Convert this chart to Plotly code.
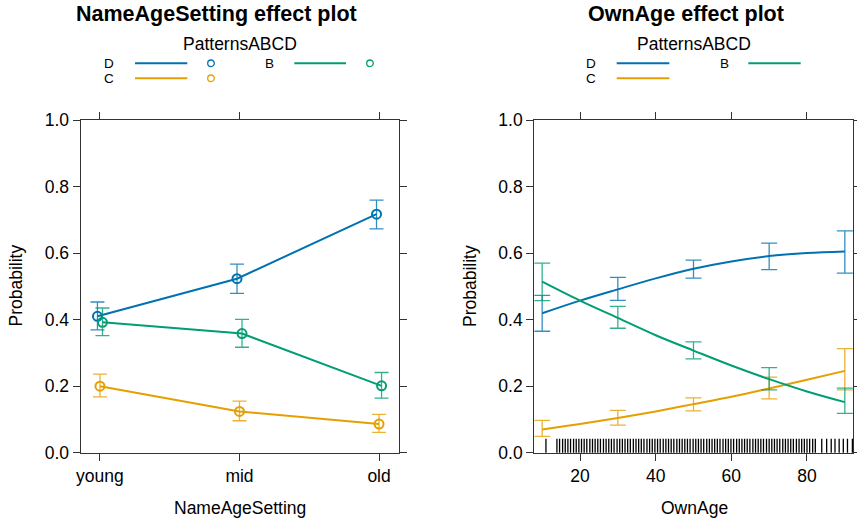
import plotly.graph_objects as go

# ---------------- data ----------------
settings = ["young", "mid", "old"]
patterns = ["D", "C", "B"]
colors = {"D": "#0072B2", "C": "#E69F00", "B": "#009E73"}
err_colors = {"D": "rgba(0,114,178,0.8)", "C": "rgba(230,159,0,0.8)", "B": "rgba(0,158,115,0.8)"}

# NameAgeSetting effect: fit, lower, upper
set_fit = {"D": [0.410, 0.523, 0.717], "C": [0.200, 0.124, 0.086], "B": [0.392, 0.358, 0.201]}
set_lo = {"D": [0.369, 0.479, 0.673], "C": [0.168, 0.096, 0.061], "B": [0.352, 0.317, 0.164]}
set_hi = {"D": [0.453, 0.567, 0.759], "C": [0.236, 0.155, 0.115], "B": [0.435, 0.401, 0.241]}
dodge = {"D": -0.018, "C": 0.0, "B": 0.018}

# OwnAge effect: smooth curve
age_curve = [10, 20, 30, 40, 50, 60, 70, 80, 90]
age_fit = {
    "D": [0.419, 0.457, 0.491, 0.524, 0.553, 0.575, 0.591, 0.600, 0.605],
    "C": [0.070, 0.086, 0.104, 0.124, 0.146, 0.168, 0.193, 0.219, 0.246],
    "B": [0.514, 0.457, 0.405, 0.353, 0.307, 0.262, 0.221, 0.184, 0.152],
}
# OwnAge confidence intervals
age_ci = [10, 30, 50, 70, 90]
age_ci_fit = {
    "D": [0.419, 0.491, 0.553, 0.591, 0.605],
    "C": [0.070, 0.104, 0.146, 0.193, 0.246],
    "B": [0.514, 0.405, 0.307, 0.221, 0.152],
}
age_lo = {
    "D": [0.365, 0.458, 0.525, 0.550, 0.540],
    "C": [0.049, 0.083, 0.126, 0.162, 0.189],
    "B": [0.457, 0.374, 0.282, 0.189, 0.118],
}
age_hi = {
    "D": [0.473, 0.527, 0.579, 0.630, 0.667],
    "C": [0.097, 0.127, 0.165, 0.227, 0.313],
    "B": [0.570, 0.440, 0.333, 0.256, 0.194],
}
# rug of observed OwnAge values
rug_ages = [11.0,
            13.9, 14.6, 15.4, 16.1, 16.8, 17.5, 18.3, 19.0, 19.7, 20.4, 21.1, 21.8, 22.6, 23.3,
            24.0, 24.7, 25.4, 26.2, 26.9, 27.6, 28.3, 29.0, 29.8, 30.5, 31.2, 31.9, 32.6, 33.3,
            34.1, 34.8, 35.5, 36.2, 36.9, 37.7, 38.4, 39.1, 39.8, 40.5, 41.2, 42.0, 42.7, 43.4,
            44.1, 44.8, 45.6, 46.3, 47.0, 47.7, 48.4, 49.1, 49.9, 50.6, 51.3, 52.0, 52.7, 53.5,
            54.2, 54.9, 55.6, 56.3, 57.0, 57.8, 58.5, 59.2, 59.9, 60.6, 61.4, 62.1, 62.8, 63.5,
            64.2, 64.9, 65.7, 66.4, 67.1, 67.8, 68.5, 69.3, 70.0, 70.7, 71.4, 72.1, 72.8, 73.6,
            74.3, 75.0, 75.7, 76.4, 77.2, 77.9, 78.6, 79.3, 80.0, 80.7, 81.5, 82.2,
            83.9, 85.2, 86.4, 87.4, 88.5, 89.6, 90.7, 92.0]

FONT = "Liberation Sans, Arial, Helvetica, sans-serif"
W, H = 857, 521

fig = go.Figure()

# ---- left panel ----
for p in patterns:
    xs = [i + 1 + dodge[p] for i in range(len(settings))]
    fit = set_fit[p]
    fig.add_trace(go.Scatter(
        x=xs, y=fit, mode="lines+markers", xaxis="x", yaxis="y",
        line=dict(color=colors[p], width=2),
        marker=dict(symbol="circle-open", size=9, color=colors[p], line=dict(width=2, color=colors[p])),
        error_y=dict(type="data", symmetric=False,
                     array=[h - f for h, f in zip(set_hi[p], fit)],
                     arrayminus=[f - l for l, f in zip(set_lo[p], fit)],
                     color=err_colors[p], thickness=1.3, width=7),
        showlegend=False, hoverinfo="skip"))

# ---- right panel ----
for p in patterns:
    fig.add_trace(go.Scatter(
        x=age_curve, y=age_fit[p], mode="lines", xaxis="x2", yaxis="y2",
        line=dict(color=colors[p], width=2, shape="spline"),
        showlegend=False, hoverinfo="skip"))
    fit = age_ci_fit[p]
    fig.add_trace(go.Scatter(
        x=age_ci, y=fit, mode="markers", xaxis="x2", yaxis="y2",
        marker=dict(size=1, color="rgba(0,0,0,0)"),
        error_y=dict(type="data", symmetric=False,
                     array=[h - f for h, f in zip(age_hi[p], fit)],
                     arrayminus=[f - l for l, f in zip(age_lo[p], fit)],
                     color=err_colors[p], thickness=1.3, width=8),
        showlegend=False, hoverinfo="skip"))

fig.add_trace(go.Scatter(
    x=rug_ages, y=[0.0176] * len(rug_ages), mode="markers", xaxis="x2", yaxis="y2",
    marker=dict(symbol="line-ns", size=11.5, line=dict(width=1.3, color="black"), color="black"),
    showlegend=False, hoverinfo="skip"))

axcol = "#333333"
common = dict(showline=True, linecolor=axcol, linewidth=1.3, mirror="ticks", ticks="outside",
              ticklen=7, tickcolor=axcol, tickwidth=1.3, showgrid=False, zeroline=False,
              automargin=False,
              tickfont=dict(family=FONT, size=17.5, color="black"))

ytop, ybot = 120, 452.7
ydom = [1 - ybot / H, 1 - ytop / H]

fig.update_layout(
    template="none",
    width=W, height=H, margin=dict(l=0, r=0, t=0, b=0, pad=0), autosize=False,
    paper_bgcolor="white", plot_bgcolor="white", showlegend=False,
    xaxis=dict(domain=[80.7 / W, 399 / W], range=[0.862, 3.143], anchor="y",
               tickvals=[1, 2, 3], ticktext=settings, **common),
    yaxis=dict(domain=ydom, range=[0, 1], anchor="x", tickvals=[0, 0.2, 0.4, 0.6, 0.8, 1.0],
               tickformat=".1f", **common),
    xaxis2=dict(domain=[534.3 / W, 853.3 / W], range=[7.92, 92.24], anchor="y2",
                tickvals=[20, 40, 60, 80], **common),
    yaxis2=dict(domain=ydom, range=[0, 1], anchor="x2", tickvals=[0, 0.2, 0.4, 0.6, 0.8, 1.0],
                tickformat=".1f", **common),
)

ann = []
shapes = []


def px(x):
    return x / W


def py(y):
    return 1 - y / H


def text(x, y, s, size, bold=False, angle=0):
    ann.append(dict(x=px(x), y=py(y), xref="paper", yref="paper", text=("<b>%s</b>" % s) if bold else s,
                    showarrow=False, xanchor="center", yanchor="middle", textangle=angle,
                    font=dict(family=FONT, size=size, color="black")))


# titles
text(216, 13.5, "NameAgeSetting effect plot", 21.5, bold=True)
text(686, 13.5, "OwnAge effect plot", 21.5, bold=True)
# axis titles
text(240, 508, "NameAgeSetting", 17.5)
text(694, 508, "OwnAge", 17.5)
text(15.5, 286, "Probability", 17.5, angle=-90)
text(470, 286, "Probability", 17.5, angle=-90)


def legend(cx, lab_x, line_x0, line_x1, circ_x, lab2_x, line2_x0, line2_x1, circ2_x):
    text(cx, 44, "PatternsABCD", 17.5)
    rows = [("D", 63.3, lab_x, line_x0, line_x1, circ_x),
            ("C", 78.3, lab_x, line_x0, line_x1, circ_x),
            ("B", 63.3, lab2_x, line2_x0, line2_x1, circ2_x)]
    for p, y, lx, x0, x1, cxx in rows:
        text(lx, y, p, 13.5)
        shapes.append(dict(type="line", xref="paper", yref="paper", x0=px(x0), x1=px(x1), y0=py(y), y1=py(y),
                           line=dict(color=colors[p], width=2)))
        if cxx is not None:
            shapes.append(dict(type="circle", xref="paper", yref="paper", xsizemode="pixel", ysizemode="pixel",
                               xanchor=px(cxx), yanchor=py(y), x0=-3.3, x1=3.3, y0=-3.3, y1=3.3,
                               line=dict(color=colors[p], width=1.3)))


legend(240, 109.3, 135, 187.3, 211, 269.3, 294.3, 346, 370)
legend(693.8, 591, 616.7, 669.3, None, 724, 748.3, 800.7, None)

fig.update_layout(annotations=ann, shapes=shapes)

fig.write_html("out.html", config={"responsive": False, "displayModeBar": False},
               post_script="document.body.style.margin='0px';document.documentElement.style.overflow='hidden';")
